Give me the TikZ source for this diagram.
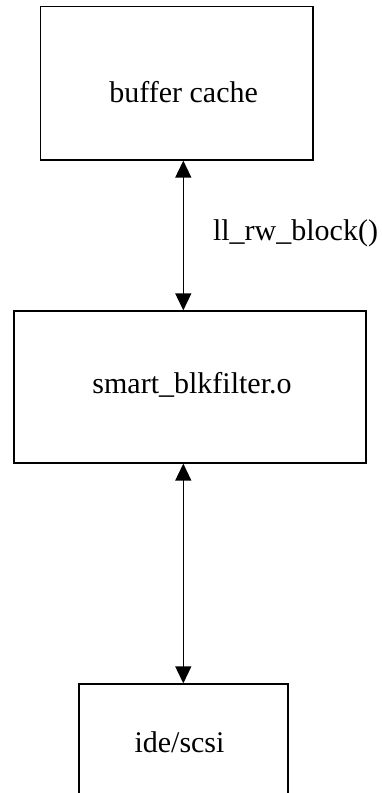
\documentclass[tikz,border=0pt]{standalone}
\usepackage{fontspec}
\setmainfont{Liberation Serif}
\usetikzlibrary{arrows.meta}
\begin{document}
\begin{tikzpicture}[x=1pt,y=-1pt,
  box/.style={draw=black, line width=1.3pt, rectangle, inner sep=0pt},
  lbl/.style={anchor=base, inner sep=0pt, font=\fontsize{30}{36}\selectfont},
  link/.style={line width=1.4pt, {Triangle[length=17pt,width=16pt]}-{Triangle[length=17pt,width=16pt]}}]
  \useasboundingbox (0,0) rectangle (382,793);
  % layer boxes
  \node[box, minimum width=272.3pt, minimum height=153.3pt] (buf) at (176.85,83.35) {};
  \node[box, minimum width=352pt, minimum height=152pt] (smart) at (190,387) {};
  % lowest box continues below the page edge
  \node[box, minimum width=209pt, minimum height=130pt] (ide) at (183.5,749) {};
  % captions
  \node[lbl] (buftext) at (183.7,102) {buffer cache};
  \node[lbl] (smarttext) at (192,393.3) {smart\_blkfilter.o};
  \node[lbl] (idetext) at (179.5,752) {ide/scsi};
  \node[lbl] (calltext) at (295.5,240) {ll\_rw\_block()};
  % connectors
  \coordinate (ax) at (183.3,0);
  \draw[link] (buf.south -| ax) -- (smart.north -| ax);
  \draw[link] (smart.south -| ax) -- (ide.north -| ax);
\end{tikzpicture}
\end{document}
